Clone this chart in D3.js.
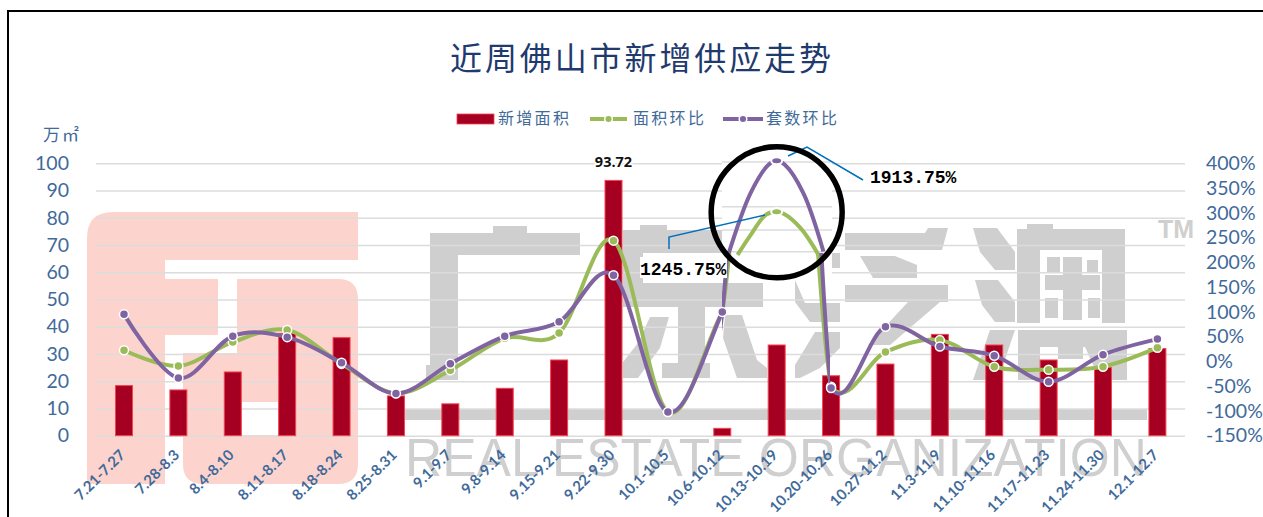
<!DOCTYPE html>
<html>
<head>
<meta charset="utf-8">
<script src="https://cdnjs.cloudflare.com/ajax/libs/d3/7.8.5/d3.min.js"></script>
<style>
  html, body { margin: 0; padding: 0; background: #fff; overflow: hidden; }
  svg { display: block; }
</style>
</head>
<body>
<div id="chart"></div>
<script>
const categories = ["7.21-7.27","7.28-8.3","8.4-8.10","8.11-8.17","8.18-8.24","8.25-8.31","9.1-9.7","9.8-9.14","9.15-9.21","9.22-9.30","10.1-10.5","10.6-10.12","10.13-10.19","10.20-10.26","10.27-11.2","11.3-11.9","11.10-11.16","11.17-11.23","11.24-11.30","12.1-12.7"];
const newArea = [18.4,16.8,23.4,37.5,36,14.6,11.7,17.4,27.8,93.72,0,2.7,33.3,22,26.3,37.2,33.3,27.8,25,32];
const areaChange = [22.4,-9.3,39,63.4,-5,-64,-18,46.6,57.4,243.8,-101.6,100,1245.75,-51,19,43,-10.7,-16.7,-10.7,27.7];
const unitChange = [95,-33.5,51,49,-2.6,-65,-4.6,51,80,174,-102,100,1913.75,-53.7,70,30,11.6,-41,13.6,45];
const leftTicks = [0,10,20,30,40,50,60,70,80,90,100];
const rightTicks = [-150,-100,-50,0,50,100,150,200,250,300,350,400];

// the circled inset redraws the off-scale peak (category index, percent on the right axis)
const purplePeakIdx = [11.12,11.52,11.85,12,12.15,12.49,12.86];
const purplePeakPct = [219,340,397,405,397,340,222];
const greenPeakIdx = [11.28,11.52,11.8,12,12.13,12.44,12.77];
const greenPeakPct = [215,255,296,302,298,269,215];
const insetGridPct = [402.6,312.4,265.3,221.5];

const W = 1263, H = 517;
const blue = "#3f6a9a", green = "#9bbb59", purple = "#8064a2", grey = "#cfcfcf", pink = "#fdd4cd";

const svg = d3.select("#chart").append("svg").attr("width", W).attr("height", H);

// Scales
const x = d3.scaleBand().domain(categories).range([96.8, 1184.6]).paddingInner(0.6875).paddingOuter(0.34375);
const cx = d => x(d) + x.bandwidth() / 2;
const xIdx = d3.scaleLinear().domain([0, 19]).range([cx(categories[0]), cx(categories[19])]);
const y = d3.scaleLinear().domain([0, 100]).range([435.7, 163.3]);
const yR = d3.scaleLinear().domain([-150, 400]).range([435.7, 163.3]);

// Frame
svg.append("path").attr("d", `M8,${H}V11H${W}`).attr("fill", "none").attr("stroke", "#000").attr("stroke-width", 2);

// Watermark logo
const wm = svg.append("g");
wm.append("path").attr("fill", pink).attr("d",
  "M113,212H358V260H165V279H218V335H165V484H87V238Q87,212 113,212Z");
wm.append("path").attr("fill", pink).attr("d",
  "M237,279H338Q358,279 358,299V464Q358,484 338,484H203Q183,484 183,464V353H237Z");
wm.append("rect").attr("fill", "#fff").attr("x", 242).attr("y", 402).attr("width", 36).attr("height", 33);

// Watermark characters, rough blocks
const blocks = [
  [430,233,150,22],[493,226,34,7],[430,255,28,125],[426,365,32,15],[405,409,742,11],
  [623,230,107,23],[640,225,27,5],[623,253,20,32],[623,283,140,24],[678,307,27,58],[662,363,48,15],
  [845,285,103,17],
  [1017,229,108,21],[1027,224,26,5],[1017,250,23,73],[1102,250,23,73],
  [1063,257,19,63],[1045,275,55,15],[1047,257,13,15],[1087,260,11,13],[1045,298,13,20],[1088,298,12,20],
  [1018,330,109,17],[1018,347,22,33],[1058,347,25,12]
];
wm.selectAll("rect.block").data(blocks).join("rect").attr("class", "block").attr("fill", grey)
  .attr("x", d => d[0]).attr("y", d => d[1]).attr("width", d => d[2]).attr("height", d => d[3]);
const polys = [
  "M650,317H669L660,348L638,378H623V362L638,343Z",
  "M725,315H742L757,360L767,368V378H737L723,338Z",
  "M845,233H925L928,228H948L942,250H845Z",
  "M860,256H895L917,265V278H873Z",
  "M908,302H940L890,345H868Z",
  "M803,253H840V268H810Z",
  "M795,280L805,303H840V322H810L795,302Z",
  "M815,332H840V348L820,368L800,378H795V365Z",
  "M973,228H997L1015,252V270H995L980,252Z",
  "M975,280H998L1015,302V322H995L982,305Z",
  "M990,330H1015L998,380H973Z",
  "M1085,347H1127V380H1100Z"
];
wm.selectAll("path.poly").data(polys).join("path").attr("class", "poly").attr("fill", grey).attr("d", d => d);
wm.append("text").attr("x", 405).attr("y", 476).attr("textLength", 742).attr("lengthAdjust", "spacingAndGlyphs")
  .attr("font-family", "Liberation Sans").attr("font-size", 54).attr("fill", grey).text("REAL ESTATE ORGANIZATION");
wm.append("text").attr("x", 1158).attr("y", 238).attr("font-family", "Liberation Sans").attr("font-weight", "bold")
  .attr("font-size", 25).attr("fill", grey).text("TM");

// Gridlines
svg.append("g").attr("transform", "translate(96,0)")
  .call(d3.axisLeft(y).tickValues(leftTicks).tickSize(-1089).tickFormat(""))
  .call(g => g.select(".domain").remove())
  .call(g => g.selectAll("line").attr("stroke", "#dcdcdc").attr("stroke-width", 1.5));

// Axes
const leftAxis = svg.append("g").attr("transform", "translate(77,0)")
  .call(d3.axisLeft(y).tickValues(leftTicks).tickSize(0).tickPadding(8));
const rightAxis = svg.append("g").attr("transform", "translate(1198,0)")
  .call(d3.axisRight(yR).tickValues(rightTicks).tickSize(0).tickPadding(8).tickFormat(d => d + "%"));
[leftAxis, rightAxis].forEach(a => {
  a.select(".domain").remove();
  a.selectAll("text").attr("font-family", "Lato").attr("font-size", 19.5).attr("fill", blue);
});

// Category labels
svg.append("g").selectAll("text").data(categories).join("text")
  .attr("transform", d => `translate(${cx(d) + 2},456) rotate(-45)`)
  .attr("text-anchor", "end").attr("font-family", "Lato").attr("font-weight", "bold")
  .attr("font-size", 14.8).attr("fill", blue).text(d => d);

// Bars
svg.append("g").selectAll("rect").data(categories).join("rect")
  .attr("x", d => x(d)).attr("width", x.bandwidth())
  .attr("y", (d, i) => y(newArea[i])).attr("height", (d, i) => y(0) - y(newArea[i]))
  .attr("fill", "#a50021").attr("stroke", "#f9424f").attr("stroke-width", 1)
  .attr("display", (d, i) => newArea[i] > 0 ? null : "none");

svg.append("text").attr("x", cx(categories[9])).attr("y", 167).attr("text-anchor", "middle")
  .attr("font-family", "Open Sans").attr("font-weight", "bold").attr("font-size", 14.5).attr("fill", "#111")
  .attr("stroke", "#fff").attr("stroke-width", 3).attr("paint-order", "stroke").text("93.72");

// Inset patch over the peak
const patchX = 722, patchW = 110;
svg.append("rect").attr("x", patchX).attr("y", 150).attr("width", patchW).attr("height", 126).attr("fill", "#fff");
svg.append("g").selectAll("line").data(insetGridPct).join("line")
  .attr("x1", patchX).attr("x2", patchX + patchW).attr("y1", d => yR(d)).attr("y2", d => yR(d))
  .attr("stroke", "#dcdcdc").attr("stroke-width", 1.5);

// Outside the peak the curve follows the drawn position of the peak, next to it the real off-scale value
const defs = svg.append("defs");
const outerClip = defs.append("clipPath").attr("id", "outer");
[[0,722],[830,W - 830]].forEach(r =>
  outerClip.append("rect").attr("x", r[0]).attr("y", 0).attr("width", r[1]).attr("height", H));
defs.append("clipPath").attr("id", "steep").append("rect")
  .attr("x", 722).attr("y", 253).attr("width", 108).attr("height", H - 253);

const line = d3.line().curve(d3.curveCardinal.tension(0));
const insetLine = d3.line().curve(d3.curveCatmullRom.alpha(0.5));

function drawSeries(values, color, peakIdx, peakPct) {
  const realPts = categories.map((c, i) => [cx(c), yR(values[i])]);
  const shownPts = categories.map((c, i) => [cx(c), yR(i === 12 ? peakPct[3] : values[i])]);
  svg.append("path").attr("d", line(shownPts)).attr("fill", "none").attr("stroke", color)
    .attr("stroke-width", 4).attr("clip-path", "url(#outer)");
  svg.append("path").attr("d", line(realPts)).attr("fill", "none").attr("stroke", color)
    .attr("stroke-width", 4).attr("clip-path", "url(#steep)");
  svg.append("path").attr("d", insetLine(peakIdx.map((d, i) => [xIdx(d), yR(peakPct[i])])))
    .attr("fill", "none").attr("stroke", color).attr("stroke-width", 4);
  svg.append("ellipse").attr("cx", xIdx(12)).attr("cy", yR(peakPct[3])).attr("rx", 5.5).attr("ry", 3.5)
    .attr("fill", color).attr("stroke", "#fff").attr("stroke-width", 2);
  svg.append("g").selectAll("circle").data(realPts.filter((p, i) => i !== 12)).join("circle")
    .attr("cx", d => d[0]).attr("cy", d => d[1]).attr("r", 4.5)
    .attr("fill", color).attr("stroke", "#fff").attr("stroke-width", 1.5);
}
drawSeries(areaChange, green, greenPeakIdx, greenPeakPct);
drawSeries(unitChange, purple, purplePeakIdx, purplePeakPct);

// Callouts
svg.append("rect").attr("x", 640).attr("y", 257).attr("width", 87).attr("height", 21).attr("fill", "#fff");
svg.append("polyline").attr("points", "765,215 669,237 669,249").attr("fill", "none").attr("stroke", "#0070c0").attr("stroke-width", 1.5);
svg.append("polyline").attr("points", "788,156 807,147 863,180").attr("fill", "none").attr("stroke", "#0070c0").attr("stroke-width", 1.5);
const callout = [[870,183,"1913.75%"],[640,275,"1245.75%"]];
svg.append("g").selectAll("text").data(callout).join("text")
  .attr("x", d => d[0]).attr("y", d => d[1]).attr("font-family", "Liberation Mono").attr("font-weight", "bold")
  .attr("font-size", 18).attr("fill", "#000").text(d => d[2]);

// The circle
svg.append("circle").attr("cx", xIdx(12)).attr("cy", 212.3).attr("r", 65.5)
  .attr("fill", "none").attr("stroke", "#000").attr("stroke-width", 5.5);

// Title, unit, legend
const cjk = "Noto Sans CJK SC";
svg.append("text").attr("x", 450).attr("y", 70).attr("font-family", cjk)
  .attr("font-size", 32).attr("letter-spacing", 2.9).attr("fill", "#1f3a6e").text("近周佛山市新增供应走势");
svg.append("text").attr("x", 43).attr("y", 141).attr("font-family", cjk).attr("font-size", 17)
  .attr("letter-spacing", 2).attr("fill", blue).text("万㎡");

const legendText = [[498,"新增面积"],[633,"面积环比"],[766,"套数环比"]];
svg.append("g").selectAll("text").data(legendText).join("text")
  .attr("x", d => d[0]).attr("y", 124).attr("font-family", cjk).attr("font-size", 16)
  .attr("letter-spacing", 2.3).attr("fill", blue).text(d => d[1]);
svg.append("rect").attr("x", 457).attr("y", 114).attr("width", 37).attr("height", 10).attr("fill", "#a50021").attr("stroke", "#f9424f").attr("stroke-width", 0.8);
[[590,627,green],[723,763,purple]].forEach(k => {
  svg.append("line").attr("x1", k[0]).attr("x2", k[1]).attr("y1", 119).attr("y2", 119).attr("stroke", k[2]).attr("stroke-width", 4);
  svg.append("circle").attr("cx", (k[0] + k[1]) / 2).attr("cy", 119).attr("r", 3.8).attr("fill", k[2]).attr("stroke", "#fff").attr("stroke-width", 1.5);
});
</script>
</body>
</html>
